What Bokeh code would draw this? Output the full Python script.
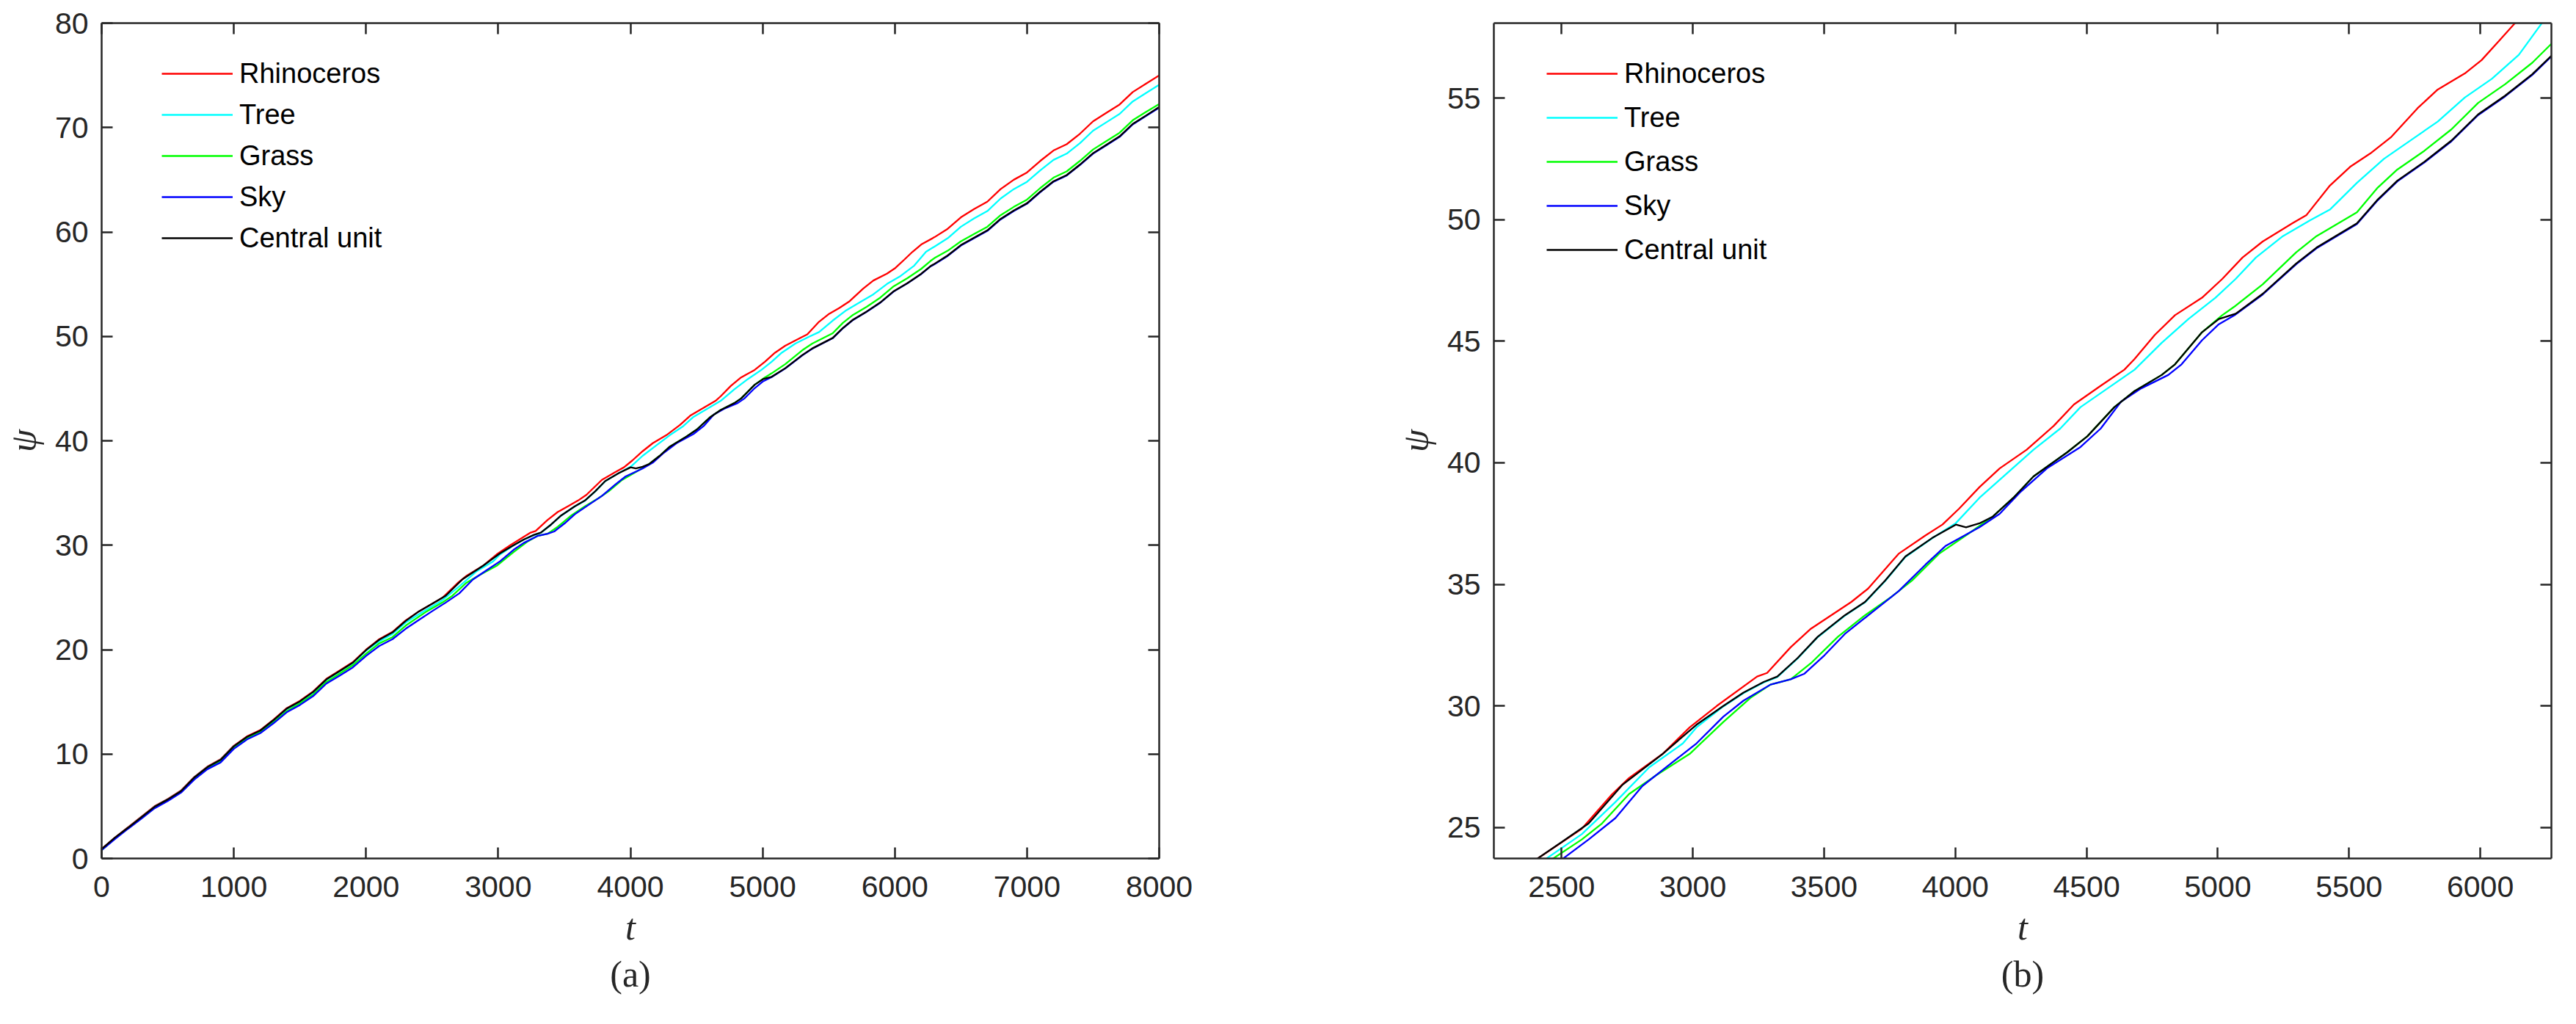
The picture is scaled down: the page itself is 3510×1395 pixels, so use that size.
from bokeh.plotting import figure
from bokeh.models import Range1d, LinearAxis, FixedTicker, Legend, LegendItem, Title
from bokeh.layouts import row
from bokeh.embed import file_html
from bokeh.resources import INLINE

# ---------------- data ----------------
t_early = [0, 100, 200, 300, 400, 500, 600, 700, 800, 900, 1000, 1100,
           1200, 1300, 1400, 1500, 1600, 1700, 1800, 1900, 2000, 2100, 2200, 2300]
t_late = [6300, 6400, 6500, 6600, 6700, 6800, 6900, 7000, 7100, 7200,
          7300, 7400, 7500, 7600, 7700, 7800, 7900, 8000]

# Rhinoceros
t_rhinoceros = t_early + [2402, 2577, 2693, 2757, 2885, 2988, 3091, 3245, 3283, 3373,
                          3450, 3527, 3604, 3668, 3784, 3887, 3951, 4015, 4092, 4169,
                          4272, 4375, 4452, 4554, 4644, 4683, 4760, 4837, 4940, 5017,
                          5094, 5171, 5286, 5338, 5427, 5504, 5581, 5659, 5761, 5838,
                          5941, 6005, 6070, 6134, 6200] + t_late
psi_rhinoceros = [0.9, 2.0, 3.0, 4.0, 5.0, 5.7, 6.5, 7.8, 8.8, 9.5, 10.8, 11.7,
                  12.3, 13.3, 14.4, 15.1, 16.0, 17.2, 18.0, 18.8, 20.0, 21.0, 21.7, 22.8,
                  23.68, 24.95, 26.38, 27.04, 28.03, 29.12, 30.0, 31.21, 31.36, 32.42,
                  33.18, 33.73, 34.28, 34.83, 36.26, 37.02, 37.46, 38.12, 39.0, 39.77,
                  40.54, 41.52, 42.4, 43.17, 43.83, 44.27, 45.26, 46.07, 46.79, 47.56,
                  48.44, 49.1, 49.86, 50.19, 51.4, 52.17, 52.72, 53.38, 54.58, 55.35,
                  56.01, 56.56, 57.33, 58.1, 58.8,
                  59.5, 60.3, 61.4, 62.2, 62.9, 64.1, 65.0, 65.7, 66.8, 67.8,
                  68.4, 69.4, 70.6, 71.4, 72.2, 73.4, 74.2, 75.0]

# Tree
t_tree = t_early + [2436, 2577, 2705, 2834, 2962, 3014, 3116, 3193, 3270, 3322,
                    3399, 3476, 3579, 3656, 3733, 3810, 3912, 4002, 4092, 4195,
                    4298, 4400, 4477, 4580, 4683, 4786, 4888, 4991, 5068, 5145,
                    5248, 5351, 5427, 5530, 5633, 5736, 5838, 5941, 6044, 6147,
                    6236] + t_late
psi_tree = [0.85, 1.95, 2.95, 3.95, 4.95, 5.65, 6.45, 7.75, 8.75, 9.45, 10.75, 11.6,
            12.2, 13.2, 14.3, 15.0, 15.9, 17.1, 17.9, 18.7, 19.9, 20.8, 21.5, 22.6,
            23.68, 24.73, 26.05, 27.48, 28.46, 29.12, 29.98, 30.53, 30.97, 31.19,
            31.95, 32.83, 33.71, 34.26, 35.14, 36.13, 36.9, 37.52, 38.56, 39.55,
            40.54, 41.41, 42.29, 43.06, 43.83, 44.93, 45.91, 46.79, 47.56, 48.44,
            49.32, 49.97, 50.41, 51.51, 52.5, 53.27, 54.03, 55.02, 55.79, 56.78,
            58.1,
            58.6, 59.4, 60.5, 61.3, 62.0, 63.2, 64.1, 64.8, 65.9, 66.9,
            67.5, 68.5, 69.7, 70.5, 71.3, 72.5, 73.3, 74.1]

# Grass
t_grass = t_early + [2461, 2577, 2654, 2757, 2860, 2988, 3116, 3219, 3296, 3373,
                     3450, 3553, 3656, 3758, 3835, 3938, 4041, 4143, 4221, 4298,
                     4426, 4503, 4606, 4683, 4786, 4837, 4940, 5017, 5068, 5171,
                     5299, 5376, 5530, 5607, 5684, 5787, 5890, 5992, 6095, 6198,
                     6270] + t_late
psi_grass = [0.8, 1.9, 2.9, 3.85, 4.85, 5.55, 6.35, 7.6, 8.6, 9.3, 10.6, 11.5,
             12.1, 13.05, 14.1, 14.85, 15.7, 16.9, 17.7, 18.5, 19.6, 20.6, 21.2, 22.3,
             23.68, 24.51, 25.17, 26.38, 27.15, 28.03, 29.34, 30.33, 30.88, 31.1,
             31.76, 32.85, 33.73, 34.5, 35.16, 36.26, 37.02, 37.79, 38.56, 39.44,
             40.43, 41.09, 42.29, 42.95, 43.61, 44.05, 45.37, 46.07, 46.46, 47.34,
             48.66, 49.32, 50.3, 51.29, 52.06, 52.83, 53.71, 54.8, 55.57, 56.45,
             57.22,
             57.5, 58.2, 59.1, 59.8, 60.5, 61.6, 62.4, 63.1, 64.2, 65.2,
             65.8, 66.8, 67.9, 68.7, 69.5, 70.7, 71.5, 72.25]

# Sky
t_sky = t_early + [2400, 2500, 2603, 2705, 2808, 2911, 3014, 3116, 3193, 3296,
                   3373, 3424, 3502, 3579, 3681, 3784, 3887, 3964, 4092, 4169,
                   4246, 4349, 4477, 4554, 4631, 4708, 4811, 4862, 4940, 5004,
                   5068, 5171, 5299, 5376, 5530, 5607, 5684, 5787, 5890, 5992,
                   6095, 6198, 6270] + t_late
psi_sky = [0.8, 1.85, 2.85, 3.8, 4.8, 5.5, 6.3, 7.55, 8.55, 9.2, 10.5, 11.4,
           12.0, 12.95, 14.0, 14.7, 15.55, 16.75, 17.5, 18.3, 19.4, 20.35, 21.0, 22.0,
           22.85, 23.68, 24.51, 25.39, 26.71, 27.59, 28.46, 29.56, 30.22, 30.88,
           31.1, 31.32, 32.09, 32.96, 33.84, 34.72, 35.82, 36.59, 37.35, 37.9,
           38.78, 39.77, 40.65, 41.41, 42.51, 43.06, 43.61, 44.05, 45.04, 45.7,
           46.1, 46.92, 48.17, 48.82, 49.82, 50.77, 51.57, 52.35, 53.22, 54.3,
           55.07, 55.95, 56.7,
           56.9, 57.7, 58.7, 59.4, 60.1, 61.2, 62.0, 62.7, 63.8, 64.8,
           65.4, 66.4, 67.5, 68.3, 69.1, 70.3, 71.1, 71.9]

# Central unit
t_central = t_early + [2402, 2500, 2603, 2731, 2885, 3014, 3116, 3193, 3270, 3322,
                       3399, 3476, 3579, 3656, 3733, 3810, 3912, 4002, 4041, 4092,
                       4143, 4221, 4298, 4426, 4503, 4606, 4683, 4786, 4837, 4940,
                       5004, 5068, 5171, 5299, 5376, 5530, 5607, 5684, 5787, 5890,
                       5992, 6095, 6198, 6270] + t_late
psi_central = [0.9, 2.0, 2.95, 3.95, 4.95, 5.65, 6.45, 7.75, 8.75, 9.45, 10.75, 11.65,
               12.25, 13.25, 14.35, 15.05, 15.95, 17.15, 17.95, 18.75, 19.95, 20.95, 21.65, 22.75,
               23.68, 24.4, 25.17, 26.75, 28.03, 29.23, 30.0, 30.55, 30.99, 31.21,
               31.97, 32.85, 33.73, 34.28, 35.16, 36.15, 36.91, 37.46, 37.35, 37.51,
               37.79, 38.56, 39.44, 40.43, 41.09, 42.29, 42.95, 43.61, 44.05, 45.37,
               45.91, 46.13, 46.95, 48.2, 48.85, 49.85, 50.8, 51.6, 52.38, 53.25,
               54.33, 55.1, 55.98, 56.73,
               56.95, 57.75, 58.75, 59.45, 60.15, 61.25, 62.05, 62.75, 63.85, 64.85,
               65.45, 66.45, 67.55, 68.35, 69.15, 70.35, 71.15, 71.97]

series_names = ["Rhinoceros", "Tree", "Grass", "Sky", "Central unit"]
series_t = [t_rhinoceros, t_tree, t_grass, t_sky, t_central]
series_psi = [psi_rhinoceros, psi_tree, psi_grass, psi_sky, psi_central]
series_colors = ["#FF0000", "#00FFFF", "#00FF00", "#0000FF", "#000000"]

ticks_x_a = [0, 1000, 2000, 3000, 4000, 5000, 6000, 7000, 8000]
ticks_y_a = [0, 10, 20, 30, 40, 50, 60, 70, 80]
ticks_x_b = [2500, 3000, 3500, 4000, 4500, 5000, 5500, 6000]
ticks_y_b = [25, 30, 35, 40, 45, 50, 55]

AX = "#262626"


def style_axis(ax, show_labels=True):
    ax.axis_line_color = AX
    ax.axis_line_width = 2.5
    ax.major_tick_line_color = AX
    ax.major_tick_line_width = 2.5
    ax.major_tick_in = 15
    ax.major_tick_out = 0
    ax.minor_tick_line_color = None
    ax.major_label_text_font = "Liberation Sans"
    ax.major_label_text_color = AX
    if show_labels:
        ax.major_label_text_font_size = "41px"
    else:
        ax.major_label_text_font_size = "0px"
        ax.major_label_standoff = 0


def make_panel(xr, yr, xt, yt, panel_label, mbl, mbr, leg_x, leg_top, item_h):
    fh = 1138
    p = figure(frame_width=1441, frame_height=fh,
               x_range=Range1d(*xr), y_range=Range1d(*yr),
               output_backend="svg", toolbar_location=None,
               min_border_left=mbl, min_border_right=mbr,
               min_border_top=31, min_border_bottom=210,
               x_axis_label="t", y_axis_label="ψ")
    p.xgrid.visible = False
    p.ygrid.visible = False
    p.outline_line_color = None
    p.background_fill_color = "white"
    p.border_fill_color = "white"

    p.xaxis.ticker = FixedTicker(ticks=xt)
    p.yaxis.ticker = FixedTicker(ticks=yt)
    style_axis(p.xaxis[0])
    style_axis(p.yaxis[0])
    p.xaxis.major_label_standoff = 24
    p.yaxis.major_label_standoff = 18
    for ax in (p.xaxis[0], p.yaxis[0]):
        ax.axis_label_text_font = "Liberation Serif"
        ax.axis_label_text_font_style = "italic"
        ax.axis_label_text_font_size = "50px"
        ax.axis_label_text_color = AX
    p.xaxis.axis_label_standoff = 10
    p.yaxis.axis_label_standoff = 12

    top = LinearAxis(ticker=FixedTicker(ticks=xt))
    right = LinearAxis(ticker=FixedTicker(ticks=yt))
    style_axis(top, False)
    style_axis(right, False)
    p.add_layout(top, "above")
    p.add_layout(right, "right")

    items = []
    for name, tv, vals, col in zip(series_names, series_t, series_psi, series_colors):
        r = p.line(tv, vals, line_color=col, line_width=2.3)
        items.append(LegendItem(label=name, renderers=[r]))

    n = len(items)
    leg = Legend(items=items,
                 location=(leg_x, fh - leg_top - n * item_h),
                 glyph_width=97, glyph_height=item_h,
                 label_height=item_h, spacing=0, padding=0, margin=0,
                 label_standoff=9,
                 label_text_font="Liberation Sans", label_text_font_size="38px",
                 label_text_color="#000000",
                 background_fill_alpha=0, border_line_alpha=0)
    p.add_layout(leg, "center")

    p.add_layout(Title(text=panel_label, align="center",
                       text_font="Liberation Serif", text_font_style="normal",
                       text_font_size="50px", text_color=AX, standoff=6), "below")
    return p


p1 = make_panel((0, 8000), (0, 80), ticks_x_a, ticks_y_a, "(a)",
                138, 150, 82, 41, 56)
p2 = make_panel((2242, 6271), (23.73, 58.08), ticks_x_b, ticks_y_b, "(b)",
                306, 10, 72, 39, 60)

layout = row(p1, p2)
open("out.html", "w").write(file_html(layout, INLINE))
